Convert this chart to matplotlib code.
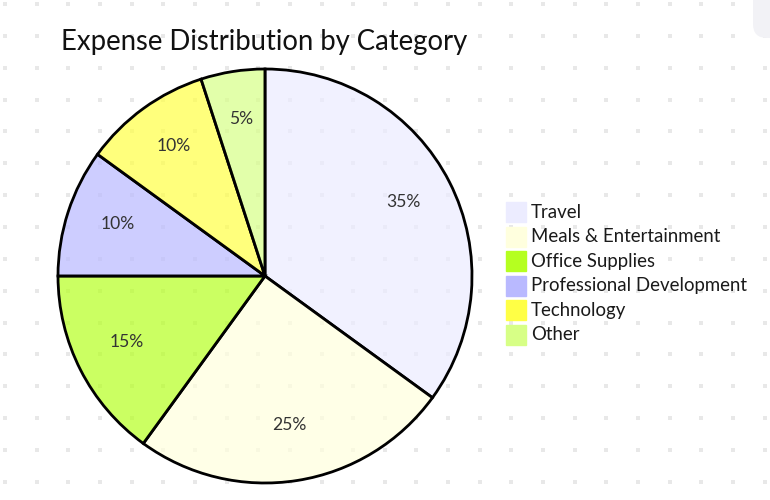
import matplotlib.pyplot as plt
from matplotlib.colors import to_rgba
from matplotlib.patches import Rectangle, FancyBboxPatch
import numpy as np

title = 'Expense Distribution by Category'
categories = ['Travel', 'Meals & Entertainment', 'Office Supplies',
              'Professional Development', 'Technology', 'Other']
shares = [35, 25, 15, 10, 10, 5]
colors = ['#ececff', '#ffffde', '#b5ff20', '#b9b9ff', '#ffff45', '#d7ff86']

W, H = 770, 500
px = 72 / 100  # pixel -> point at dpi 100
plt.rcParams['font.family'] = ['Lato', 'DejaVu Sans']

fig = plt.figure(figsize=(W / 100, H / 100), dpi=100)
ax = fig.add_axes([0, 0, 1, 1])

# dotted background
gx = 5 + 31.65 * np.arange(0, 25)
gy = 4 + 31.85 * np.arange(0, 16)
xx, yy = np.meshgrid(gx, gy)
ax.scatter(xx.ravel(), yy.ravel(), s=5, color='#e8e8e8', marker='s',
           linewidths=0, zorder=0)
ax.add_patch(FancyBboxPatch((753, -30), 45, 68, boxstyle='round,pad=0,rounding_size=14',
                            fc='#f2f2f6', ec='none', zorder=1))

# y axis runs downward, so counterclock in data = clockwise on screen
wedges, texts, autotexts = ax.pie(
    shares, colors=[to_rgba(c, 0.7) for c in colors],
    startangle=270, counterclock=True, center=(265, 276), radius=207,
    autopct='%1.0f%%', pctdistance=0.75,
    wedgeprops=dict(edgecolor='black', linewidth=2),
    textprops=dict(fontsize=17.5 * px, color='#333333'))
for w in wedges:
    w.set_zorder(2)
for t in autotexts:
    t.set_zorder(3)
    x, y = t.get_position()
    t.set_position((x, y - 4))

ax.text(61, 42, title, fontsize=27.5 * px, color='#111111', ha='left', va='center')

for i, (name, c) in enumerate(zip(categories, colors)):
    y0 = 202 + 24.6 * i
    ax.add_patch(Rectangle((506, y0), 20, 20, fc=c, ec=c, lw=1, zorder=2))
    ax.text(531, y0 + 10, name, fontsize=18.6 * px, color='#1a1a1a',
            ha='left', va='center')

ax.set_xlim(0, W)
ax.set_ylim(H, 0)
ax.set_aspect('equal')
ax.axis('off')
fig.savefig('out.png', dpi=100, facecolor='white')
